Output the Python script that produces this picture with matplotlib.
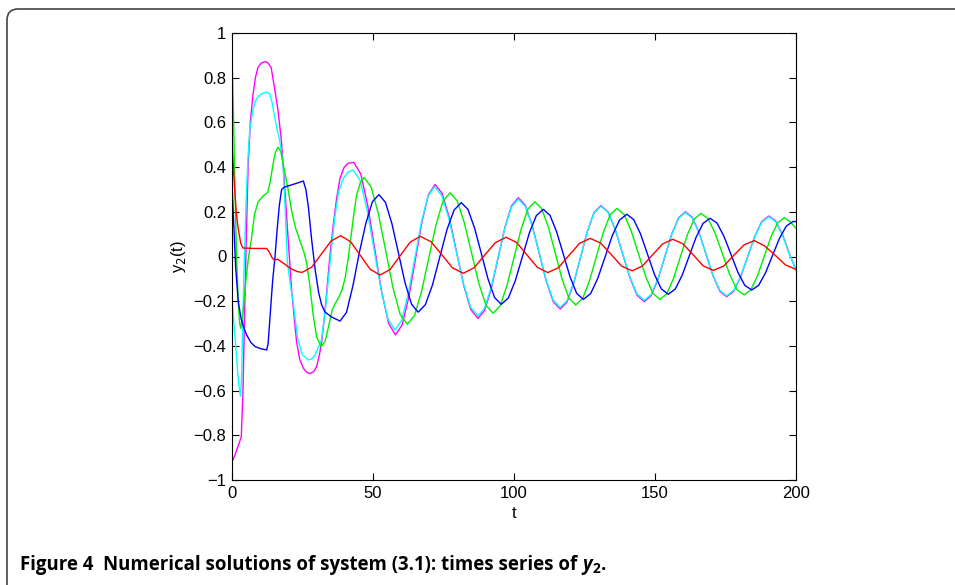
import numpy as np
import matplotlib.pyplot as plt
from matplotlib.patches import FancyBboxPatch
from matplotlib.ticker import FuncFormatter
from matplotlib.transforms import IdentityTransform

# curves: (t, y2) pairs
magenta_pts = [
    (0, -0.92), (1.0, -0.89), (2.1, -0.851), (3.3, -0.806), (3.9, -0.6), (4.4, -0.3), (5.0, 0.05),
    (5.7, 0.4), (6.5, 0.6), (7.4, 0.72), (8.3, 0.8), (9.2, 0.845), (10.3, 0.865), (11.6, 0.872),
    (12.6, 0.868), (13.9, 0.845), (15.0, 0.76), (16.3, 0.655), (17.5, 0.52), (18.8, 0.29),
    (20.0, 0.06), (21.2, -0.157), (22.1, -0.28), (22.9, -0.381), (24.0, -0.46), (25.3, -0.5),
    (26.5, -0.518), (27.7, -0.523), (29.0, -0.515), (30.0, -0.493), (31.0, -0.44), (31.8, -0.381),
    (32.7, -0.28), (33.6, -0.157), (34.7, 0.0), (35.9, 0.14), (37.1, 0.26), (38.3, 0.35),
    (39.8, 0.4), (41.2, 0.417), (43.2, 0.421),
    (45.67, 0.369), (48.13, 0.228), (50.6, 0.035), (53.07, -0.158), (55.53, -0.299), (58.0, -0.351),
    (60.33, -0.306), (62.67, -0.183), (65.0, -0.015), (67.33, 0.154), (69.67, 0.277), (72.0, 0.322),
    (74.53, 0.282), (77.07, 0.172), (79.6, 0.022), (82.13, -0.127), (84.67, -0.237), (87.2, -0.277),
    (89.58, -0.241), (91.97, -0.142), (94.35, -0.007), (96.73, 0.128), (99.12, 0.227), (101.5, 0.263),
    (103.98, 0.23), (106.47, 0.138), (108.95, 0.014), (111.43, -0.11), (113.92, -0.202), (116.4, -0.235),
    (118.8, -0.204), (121.2, -0.119), (123.6, -0.004), (126.0, 0.112), (128.4, 0.197), (130.8, 0.228),
    (133.37, 0.199), (135.93, 0.12), (138.5, 0.013), (141.07, -0.094), (143.63, -0.173), (146.2, -0.202),
    (148.63, -0.175), (151.07, -0.102), (153.5, -0.001), (155.93, 0.1), (158.37, 0.173), (160.8, 0.2),
    (163.23, 0.175), (165.67, 0.105), (168.1, 0.01), (170.53, -0.085), (172.97, -0.155), (175.4, -0.18),
    (177.9, -0.156), (180.4, -0.09), (182.9, 0.0), (185.4, 0.091), (187.9, 0.157), (190.4, 0.181),
    (192.85, 0.158), (195.3, 0.095), (197.75, 0.01), (200, -0.06),
]

cyan_pts = [
    (0, -0.19), (0.8, -0.32), (1.6, -0.45), (2.3, -0.56), (3.0, -0.625), (3.4, -0.55), (3.8, -0.3),
    (4.3, -0.05), (5.0, 0.25), (5.7, 0.45), (6.3, 0.566), (7.4, 0.655), (8.3, 0.695), (9.2, 0.715),
    (10.8, 0.73), (12.4, 0.735), (13.4, 0.727), (14.2, 0.69), (15.1, 0.626), (16.0, 0.57),
    (16.9, 0.52), (18.1, 0.417), (18.9, 0.2), (19.6, -0.016), (20.6, -0.12), (21.6, -0.195),
    (22.5, -0.29), (23.4, -0.374), (25.0, -0.44), (27.0, -0.463), (28.3, -0.458), (29.5, -0.44),
    (31.7, -0.374), (33.0, -0.25), (34.2, -0.1), (35.3, 0.04), (36.5, 0.18), (37.8, 0.29),
    (39.5, 0.35), (41.2, 0.378), (43.0, 0.387),
    (45.47, 0.339), (47.93, 0.208), (50.4, 0.029), (52.87, -0.15), (55.33, -0.281), (57.8, -0.329),
    (60.13, -0.286), (62.47, -0.169), (64.8, -0.009), (67.13, 0.152), (69.47, 0.269), (71.8, 0.312),
    (74.37, 0.273), (76.93, 0.168), (79.5, 0.023), (82.07, -0.122), (84.63, -0.227), (87.2, -0.266),
    (89.58, -0.231), (91.97, -0.135), (94.35, -0.005), (96.73, 0.126), (99.12, 0.222), (101.5, 0.257),
    (103.98, 0.225), (106.47, 0.136), (108.95, 0.015), (111.43, -0.107), (113.92, -0.196), (116.4, -0.228),
    (118.8, -0.198), (121.2, -0.115), (123.6, -0.002), (126.0, 0.112), (128.4, 0.195), (130.8, 0.225),
    (133.37, 0.197), (135.93, 0.12), (138.5, 0.015), (141.07, -0.091), (143.63, -0.168), (146.2, -0.196),
    (148.63, -0.17), (151.07, -0.098), (153.5, 0.0), (155.93, 0.099), (158.37, 0.171), (160.8, 0.197),
    (163.23, 0.172), (165.67, 0.104), (168.1, 0.011), (170.53, -0.083), (172.97, -0.151), (175.4, -0.176),
    (177.9, -0.152), (180.4, -0.088), (182.9, 0.001), (185.4, 0.09), (187.9, 0.154), (190.4, 0.178),
    (192.85, 0.155), (195.3, 0.092), (197.75, 0.008), (200, -0.058),
]

green_pts = [
    (0, 0.9), (0.4, 0.7), (0.9, 0.4), (1.5, 0.05), (2.2, -0.2), (2.7, -0.3), (3.1, -0.321),
    (3.7, -0.27), (4.3, -0.195), (5.0, -0.1), (5.8, -0.008), (6.9, 0.08), (8.0, 0.19), (9.3, 0.245),
    (11.1, 0.272), (12.6, 0.285), (13.5, 0.33), (14.5, 0.41), (15.4, 0.465), (16.3, 0.489),
    (17.3, 0.47), (18.5, 0.39), (19.9, 0.3), (21.2, 0.2), (22.5, 0.13), (24.0, 0.074), (25.5, 0.02),
    (26.5, -0.03), (27.5, -0.12), (28.8, -0.262), (30.0, -0.36), (31.6, -0.403), (33.0, -0.38),
    (34.3, -0.31), (35.5, -0.24), (36.6, -0.21), (37.7, -0.187), (39.0, -0.15), (40.1, -0.098),
    (41.3, 0.0), (42.4, 0.11), (43.3, 0.2), (44.2, 0.275), (45.5, 0.33), (46.8, 0.354),
    (49.37, 0.31), (51.93, 0.19), (54.5, 0.026), (57.07, -0.139), (59.63, -0.259), (62.2, -0.303),
    (64.72, -0.264), (67.23, -0.156), (69.75, -0.009), (72.27, 0.138), (74.78, 0.246), (77.3, 0.285),
    (79.85, 0.249), (82.4, 0.15), (84.95, 0.016), (87.5, -0.119), (90.05, -0.218), (92.6, -0.254),
    (95.07, -0.221), (97.53, -0.129), (100.0, -0.005), (102.47, 0.12), (104.93, 0.212), (107.4, 0.245),
    (109.82, 0.214), (112.23, 0.13), (114.65, 0.014), (117.07, -0.102), (119.48, -0.186), (121.9, -0.217),
    (124.33, -0.188), (126.77, -0.109), (129.2, -0.001), (131.63, 0.107), (134.07, 0.186), (136.5, 0.215),
    (139.05, 0.188), (141.6, 0.113), (144.15, 0.012), (146.7, -0.09), (149.25, -0.165), (151.8, -0.192),
    (154.22, -0.166), (156.63, -0.096), (159.05, 0.001), (161.47, 0.097), (163.88, 0.167), (166.3, 0.193),
    (168.85, 0.169), (171.4, 0.102), (173.95, 0.011), (176.5, -0.081), (179.05, -0.148), (181.6, -0.172),
    (183.98, -0.149), (186.37, -0.086), (188.75, 0.001), (191.13, 0.088), (193.52, 0.151), (195.9, 0.174),
    (198.2, 0.152), (200, 0.126),
]

blue_pts = [
    (0, 0.33), (0.6, 0.15), (1.3, -0.05), (2.2, -0.2), (3.2, -0.277), (4.2, -0.32), (5.2, -0.351),
    (6.7, -0.385), (8.2, -0.403), (10.3, -0.413), (12.3, -0.418), (12.8, -0.39), (13.6, -0.25),
    (14.4, -0.11), (15.2, -0.008), (16.0, 0.12), (16.8, 0.23), (17.6, 0.3), (18.5, 0.31),
    (21.5, 0.322), (23.5, 0.33), (25.3, 0.338), (26.2, 0.3), (27.1, 0.22), (28.2, 0.08),
    (29.5, -0.06), (30.7, -0.16), (31.8, -0.217), (32.9, -0.247), (35.2, -0.27), (38.3, -0.289),
    (40.6, -0.25), (42.9, -0.13), (45.2, 0.02), (47.5, 0.15), (49.8, 0.245), (52.1, 0.277),
    (54.42, 0.242), (56.73, 0.146), (59.05, 0.014), (61.37, -0.118), (63.68, -0.214), (66.0, -0.249),
    (68.55, -0.216), (71.1, -0.127), (73.65, -0.004), (76.2, 0.119), (78.75, 0.208), (81.3, 0.241),
    (83.67, 0.211), (86.03, 0.127), (88.4, 0.014), (90.77, -0.1), (93.13, -0.184), (95.5, -0.214),
    (97.98, -0.186), (100.47, -0.108), (102.95, -0.002), (105.43, 0.105), (107.92, 0.183), (110.4, 0.211),
    (112.77, 0.184), (115.13, 0.11), (117.5, 0.01), (119.87, -0.091), (122.23, -0.165), (124.6, -0.192),
    (127.17, -0.166), (129.73, -0.097), (132.3, -0.002), (134.87, 0.094), (137.43, 0.163), (140.0, 0.189),
    (142.45, 0.165), (144.9, 0.1), (147.35, 0.01), (149.8, -0.08), (152.25, -0.145), (154.7, -0.169),
    (157.17, -0.146), (159.63, -0.084), (162.1, 0.001), (164.57, 0.086), (167.03, 0.148), (169.5, 0.171),
    (171.97, 0.15), (174.43, 0.091), (176.9, 0.011), (179.37, -0.07), (181.83, -0.129), (184.3, -0.15),
    (186.75, -0.129), (189.2, -0.073), (191.65, 0.004), (194.1, 0.08), (196.55, 0.136), (199.0, 0.157),
    (200, 0.156),
]

red_pts = [
    (0, 0.5), (0.9, 0.31), (1.5, 0.2), (2.1, 0.133), (3.1, 0.059), (3.9, 0.038), (8.0, 0.036),
    (12.3, 0.036), (13.2, 0.02), (14.2, -0.005), (15.0, -0.016), (16.2, -0.012), (17.3, -0.022),
    (18.8, -0.035), (20.3, -0.05), (21.8, -0.06), (23.3, -0.068), (24.9, -0.071),
    (28.3, -0.047), (31.7, 0.011), (35.1, 0.069), (38.5, 0.093),
    (42.0, 0.067), (45.5, 0.005), (49.0, -0.057), (52.5, -0.083),
    (56.08, -0.058), (59.65, 0.004), (63.23, 0.065), (66.8, 0.09),
    (70.6, 0.066), (74.4, 0.008), (78.2, -0.051), (82.0, -0.075),
    (85.8, -0.051), (89.6, 0.006), (93.4, 0.062), (97.2, 0.086),
    (100.9, 0.063), (104.6, 0.007), (108.3, -0.049), (112.0, -0.072),
    (115.75, -0.05), (119.5, 0.005), (123.25, 0.059), (127.0, 0.081),
    (130.73, 0.06), (134.45, 0.009), (138.18, -0.043), (141.9, -0.064),
    (145.5, -0.043), (149.1, 0.007), (152.7, 0.056), (156.3, 0.077),
    (159.9, 0.057), (163.5, 0.008), (167.1, -0.042), (170.7, -0.062),
    (174.33, -0.043), (177.95, 0.005), (181.58, 0.052), (185.2, 0.071),
    (188.8, 0.048), (192.5, 0.007), (196.2, -0.037), (200, -0.058),
]

x_ticks = [0, 50, 100, 150, 200]
y_ticks = [-1, -0.8, -0.6, -0.4, -0.2, 0, 0.2, 0.4, 0.6, 0.8, 1]

series = [
    (magenta_pts, "#ff00ff"),
    (cyan_pts, "#00ffff"),
    (green_pts, "#00ee00"),
    (blue_pts, "#0000ff"),
    (red_pts, "#ff0000"),
]

plt.rcParams['font.family'] = ['Liberation Sans', 'DejaVu Sans']

W, H = 955, 585
fig = plt.figure(figsize=(W / 100, H / 100), dpi=100)
ax = fig.add_axes([232 / W, 105 / H, 564 / W, 447 / H])

for pts, col in series:
    arr = np.array(pts)
    ax.plot(arr[:, 0], arr[:, 1], color=col, lw=1.0)

ax.set_xlim(0, 200)
ax.set_ylim(-1, 1)
ax.set_xticks(x_ticks)
ax.set_yticks(y_ticks)
ax.yaxis.set_major_formatter(FuncFormatter(lambda v, p: ("%g" % round(v, 1)).replace("-", "\u2212")))
ax.tick_params(direction='in', top=True, right=True, length=5, width=0.8,
               labelsize=12, pad=4, colors='black')
for s in ax.spines.values():
    s.set_linewidth(0.8)
ax.set_xlabel("t", fontsize=12, labelpad=4)
ax.set_ylabel("y$_2$(t)", fontsize=12, labelpad=4)

# rounded frame around the figure panel
frame = FancyBboxPatch((7, -40), 1000, H - 9 + 40, boxstyle="round,pad=0,rounding_size=11",
                       transform=IdentityTransform(), fill=False, edgecolor="#444444", lw=1.2)
fig.add_artist(frame)

# caption, built piece by piece so y2 can be italic with subscript
cap_font = ['Open Sans', 'DejaVu Sans']
base_y = 15
cap = fig.text(20, base_y, "Figure 4  Numerical solutions of system (3.1): times series of ",
               transform=IdentityTransform(), fontsize=13.4, fontweight='bold', family=cap_font,
               va='baseline')
fig.canvas.draw()
r = fig.canvas.get_renderer()
x = cap.get_window_extent(r).x1
t_y = fig.text(x, base_y, "y", transform=IdentityTransform(), fontsize=13.4, fontweight='bold',
               style='italic', family=cap_font, va='baseline')
x = t_y.get_window_extent(r).x1 + 1
t_2 = fig.text(x, base_y - 3, "2", transform=IdentityTransform(), fontsize=10, fontweight='bold',
               family=cap_font, va='baseline')
x = t_2.get_window_extent(r).x1
fig.text(x, base_y, ".", transform=IdentityTransform(), fontsize=13.4, fontweight='bold',
         family=cap_font, va='baseline')

fig.savefig("out.png", dpi=100)
